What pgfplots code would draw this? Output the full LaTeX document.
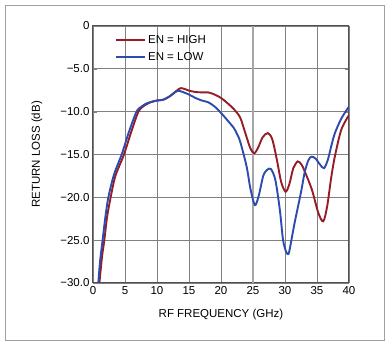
\documentclass[border=0pt]{standalone}
\usepackage{pgfplots}
\pgfplotsset{compat=1.18}
\usepackage{fontspec}
\setmainfont{Liberation Sans}
\definecolor{cHigh}{RGB}{150,28,40}
\definecolor{cLow}{RGB}{45,75,175}
\definecolor{cAxis}{RGB}{85,80,80}
\definecolor{cFrame}{RGB}{160,160,160}
\begin{document}
\begin{tikzpicture}
\begin{axis}[
  at={(0pt,0pt)}, anchor=south west,
  scale only axis, width=256pt, height=257pt,
  xmin=0, xmax=40, ymin=-30, ymax=0,
  xtick={0,5,10,15,20,25,30,35,40},
  xticklabels={0,5,10,15,20,25,30,35,40},
  ytick={-30,-25,-20,-15,-10,-5,0},
  yticklabels={−30.0,−25.0,−20.0,−15.0,−10.0,−5.0,0},
  grid=major,
  grid style={gray, line width=0.9pt},
  axis line style={cAxis, line width=1pt},
  tick label style={font=\fontsize{11.5}{13}\selectfont},
  xlabel={RF FREQUENCY (GHz)},
  ylabel={RETURN LOSS (dB)},
  label style={font=\fontsize{11.5}{13}\selectfont},
  xlabel style={at={(axis description cs:0.5,0)}, anchor=center, yshift=-32pt},
  ylabel style={at={(axis description cs:0,0.5)}, anchor=center, yshift=56pt},
  legend style={draw=none, fill=none, at={(axis description cs:0.082,0.975)}, anchor=north west,
    font=\fontsize{11.5}{13}\selectfont, row sep=3.5pt, inner sep=1pt},
  legend cell align=left,
  legend image code/.code={\draw[#1] (0pt,0pt) -- (29pt,0pt);},
]
\draw[gray!70, line width=2.4pt] (axis cs:25,-30) -- (axis cs:25,0);
\addplot[cHigh, line width=1.9pt, smooth, tension=0.5] coordinates {
(1.0,-30) (1.4,-27) (1.77,-25) (2.2,-22.3) (2.76,-20) (3.5,-17.5) (4.84,-15)
(6.0,-12.3) (7.1,-10) (8,-9.3) (9,-8.9) (10,-8.7) (11,-8.6) (12,-8.2) (13,-7.6)
(13.7,-7.25) (14.5,-7.4) (15,-7.55) (16,-7.7) (17,-7.75) (18,-7.75) (19,-8.0)
(20,-8.4) (21,-9.0) (22,-9.7) (23,-10.7) (23.8,-12.5) (24.6,-14.3) (25.2,-14.85)
(25.8,-14.2) (26.5,-13.0) (27.3,-12.5) (28,-13.2) (28.7,-15.5) (29.4,-18.2)
(30.1,-19.35) (30.7,-18.4) (31.3,-16.6) (32.0,-15.8) (32.6,-16.2) (33.1,-17.0)
(34.2,-19.1) (35.2,-21.8) (35.98,-22.8) (36.6,-21.0) (37.2,-17.8) (37.8,-15.2)
(38.8,-12.1) (40,-10.4)
};
\addlegendentry{EN = HIGH}
\addplot[cLow, line width=1.9pt, smooth, tension=0.5] coordinates {
(0.83,-30) (1.1,-27.5) (1.5,-25) (1.9,-22.5) (2.4,-20) (3.3,-17.3) (4.48,-15)
(5.6,-12.4) (6.8,-10) (7.6,-9.4) (8.5,-9.0) (10,-8.7) (11,-8.6) (12,-8.2)
(12.7,-7.8) (13.3,-7.56) (14,-7.7) (15,-8.0) (16,-8.4) (17,-8.7) (18,-8.9)
(19,-9.4) (20,-10.15) (21,-11.0) (22,-11.9) (22.5,-12.6) (23,-13.5) (24.0,-16.4)
(24.6,-19.0) (25.3,-20.9) (25.9,-19.8) (26.6,-17.5) (27.2,-16.8) (27.8,-16.7)
(28.5,-18.0) (29.2,-21.5) (29.7,-25) (30.2,-26.4) (30.55,-26.6) (30.8,-25.8)
(31.5,-23) (32.5,-19.4) (33.1,-17.0) (33.7,-15.6) (34.2,-15.25) (34.8,-15.5)
(35.5,-16.2) (36.1,-16.6) (36.7,-15.6) (37.3,-13.8) (37.8,-12.5) (38.8,-10.8)
(40,-9.4)
};
\addlegendentry{EN = LOW}
\end{axis}
\draw[cFrame, line width=0.9pt] (-88pt,-57pt) rectangle (291pt,278pt);
\path (-93pt,-61pt) rectangle (296pt,283pt);
\end{tikzpicture}
\end{document}
